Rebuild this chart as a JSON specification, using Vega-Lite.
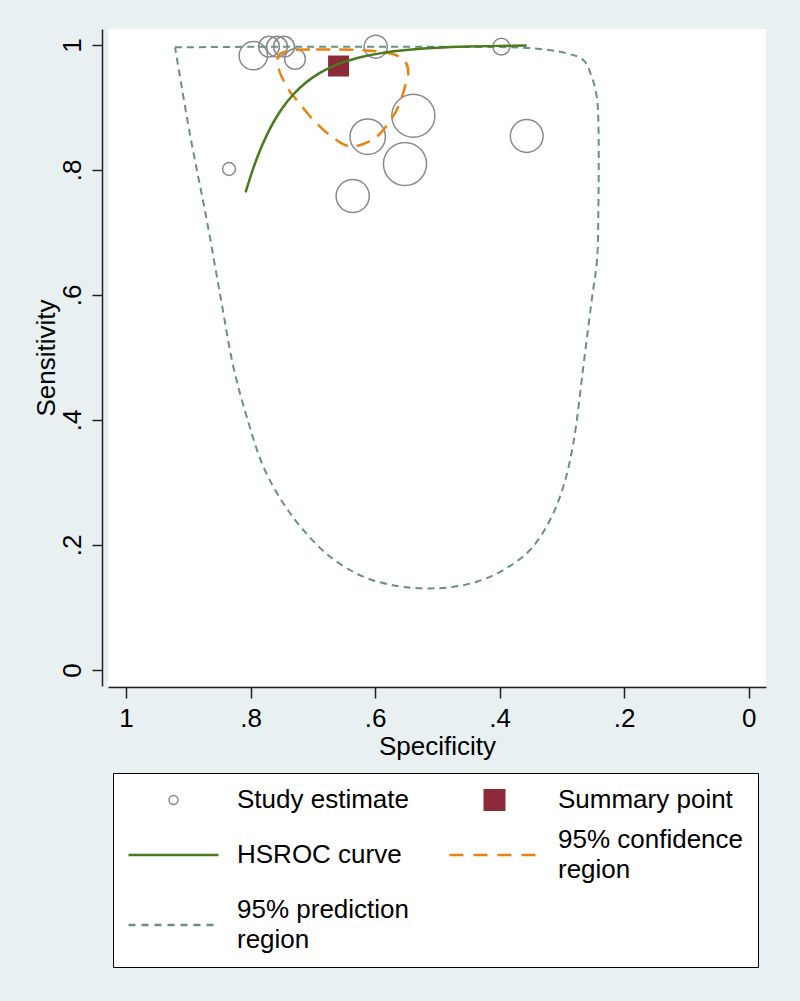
{
  "$schema": "https://vega.github.io/schema/vega-lite/v6.json",
  "autosize": {"type": "none"},
  "width": 658,
  "height": 657,
  "padding": {"left": 108, "top": 29, "right": 34, "bottom": 315},
  "background": "#e9f0f2",
  "config": {
    "view": {"fill": "white", "stroke": null},
    "font": "Liberation Sans",
    "axis": {"grid": false},
    "style": {"guide-label": {"lineHeight": 30}}
  },
  "datasets": {
    "studies": [
      {"spec": 0.7956, "sens": 0.9829, "weight": 256},
      {"spec": 0.7704, "sens": 0.9973, "weight": 137},
      {"spec": 0.7575, "sens": 0.9973, "weight": 137},
      {"spec": 0.7463, "sens": 0.9973, "weight": 137},
      {"spec": 0.7286, "sens": 0.9776, "weight": 137},
      {"spec": 0.599, "sens": 0.9973, "weight": 169},
      {"spec": 0.3973, "sens": 0.9973, "weight": 90},
      {"spec": 0.5386, "sens": 0.8869, "weight": 590},
      {"spec": 0.6119, "sens": 0.8533, "weight": 400},
      {"spec": 0.552, "sens": 0.8096, "weight": 590},
      {"spec": 0.636, "sens": 0.7584, "weight": 350},
      {"spec": 0.3565, "sens": 0.8544, "weight": 342},
      {"spec": 0.8346, "sens": 0.8016, "weight": 53}
    ],
    "summary": [{"spec": 0.6587, "sens": 0.9664}],
    "hsroc": [
      {"spec": 0.808, "sens": 0.7641},
      {"spec": 0.8, "sens": 0.7899},
      {"spec": 0.79, "sens": 0.8183},
      {"spec": 0.78, "sens": 0.8427},
      {"spec": 0.77, "sens": 0.8638},
      {"spec": 0.76, "sens": 0.882},
      {"spec": 0.75, "sens": 0.8976},
      {"spec": 0.73, "sens": 0.9224},
      {"spec": 0.71, "sens": 0.9409},
      {"spec": 0.69, "sens": 0.9547},
      {"spec": 0.67, "sens": 0.965},
      {"spec": 0.65, "sens": 0.9729},
      {"spec": 0.62, "sens": 0.9813},
      {"spec": 0.59, "sens": 0.987},
      {"spec": 0.55, "sens": 0.9919},
      {"spec": 0.5, "sens": 0.9955},
      {"spec": 0.45, "sens": 0.9975},
      {"spec": 0.4, "sens": 0.9986},
      {"spec": 0.3565, "sens": 0.9992}
    ],
    "conf": [
      {"i": 1, "spec": 0.7045, "sens": 0.9928},
      {"i": 2, "spec": 0.7366, "sens": 0.9912},
      {"i": 3, "spec": 0.7527, "sens": 0.9856},
      {"i": 4, "spec": 0.7567, "sens": 0.976},
      {"i": 5, "spec": 0.7543, "sens": 0.96},
      {"i": 6, "spec": 0.7474, "sens": 0.944},
      {"i": 7, "spec": 0.7366, "sens": 0.9248},
      {"i": 8, "spec": 0.7259, "sens": 0.912},
      {"i": 9, "spec": 0.6992, "sens": 0.88},
      {"i": 10, "spec": 0.6697, "sens": 0.8533},
      {"i": 11, "spec": 0.6483, "sens": 0.84},
      {"i": 12, "spec": 0.6355, "sens": 0.8376},
      {"i": 13, "spec": 0.6189, "sens": 0.8416},
      {"i": 14, "spec": 0.5974, "sens": 0.8533},
      {"i": 15, "spec": 0.5788, "sens": 0.8747},
      {"i": 16, "spec": 0.5627, "sens": 0.9013},
      {"i": 17, "spec": 0.552, "sens": 0.9333},
      {"i": 18, "spec": 0.5467, "sens": 0.9547},
      {"i": 19, "spec": 0.5503, "sens": 0.9712},
      {"i": 20, "spec": 0.5632, "sens": 0.9824},
      {"i": 21, "spec": 0.5921, "sens": 0.9893},
      {"i": 22, "spec": 0.6295, "sens": 0.992},
      {"i": 23, "spec": 0.6724, "sens": 0.9928},
      {"i": 24, "spec": 0.7045, "sens": 0.9928}
    ],
    "pred": [
      {"i": 1, "spec": 0.9213, "sens": 0.9963},
      {"i": 2, "spec": 0.8009, "sens": 0.9971},
      {"i": 3, "spec": 0.6403, "sens": 0.9973},
      {"i": 4, "spec": 0.4797, "sens": 0.997},
      {"i": 5, "spec": 0.3464, "sens": 0.9947},
      {"i": 6, "spec": 0.2923, "sens": 0.9867},
      {"i": 7, "spec": 0.2656, "sens": 0.976},
      {"i": 8, "spec": 0.2521, "sens": 0.9493},
      {"i": 9, "spec": 0.2441, "sens": 0.9173},
      {"i": 10, "spec": 0.2415, "sens": 0.88},
      {"i": 11, "spec": 0.2415, "sens": 0.7307},
      {"i": 12, "spec": 0.2436, "sens": 0.656},
      {"i": 13, "spec": 0.2521, "sens": 0.592},
      {"i": 14, "spec": 0.2656, "sens": 0.4853},
      {"i": 15, "spec": 0.2817, "sens": 0.3627},
      {"i": 16, "spec": 0.2977, "sens": 0.2933},
      {"i": 17, "spec": 0.3191, "sens": 0.24},
      {"i": 18, "spec": 0.3512, "sens": 0.192},
      {"i": 19, "spec": 0.3941, "sens": 0.16},
      {"i": 20, "spec": 0.4368, "sens": 0.1413},
      {"i": 21, "spec": 0.4797, "sens": 0.1323},
      {"i": 22, "spec": 0.5226, "sens": 0.1307},
      {"i": 23, "spec": 0.5653, "sens": 0.1344},
      {"i": 24, "spec": 0.6189, "sens": 0.1493},
      {"i": 25, "spec": 0.6724, "sens": 0.1813},
      {"i": 26, "spec": 0.7153, "sens": 0.224},
      {"i": 27, "spec": 0.7474, "sens": 0.2667},
      {"i": 28, "spec": 0.7795, "sens": 0.3253},
      {"i": 29, "spec": 0.8062, "sens": 0.4053},
      {"i": 30, "spec": 0.8277, "sens": 0.4853},
      {"i": 31, "spec": 0.8474, "sens": 0.592},
      {"i": 32, "spec": 0.8704, "sens": 0.72},
      {"i": 33, "spec": 0.8972, "sens": 0.856},
      {"i": 34, "spec": 0.9213, "sens": 0.9963}
    ]
  },
  "encoding": {
    "x": {
      "field": "spec",
      "type": "quantitative",
      "scale": {"domain": [-0.0278, 1.029], "reverse": true, "nice": false, "zero": false},
      "axis": {
        "title": "Specificity",
        "values": [0, 0.2, 0.4, 0.6, 0.8, 1],
        "labelExpr": "replace(format(datum.value, '.1~f'), '0.', '.')",
        "offset": 1,
        "tickSize": 11,
        "tickWidth": 1.5,
        "domainWidth": 1.5,
        "domainColor": "#222222",
        "tickColor": "#222222",
        "labelPadding": 7,
        "titlePadding": 2,
        "labelFont": "Liberation Sans",
        "titleFont": "Liberation Sans",
        "labelFontSize": 26,
        "titleFontSize": 26,
        "titleFontWeight": "normal",
        "labelColor": "black",
        "titleColor": "black",
        "labelFlush": false,
        "labelOverlap": false
      }
    },
    "y": {
      "field": "sens",
      "type": "quantitative",
      "scale": {"domain": [-0.0256, 1.0256], "nice": false, "zero": false},
      "axis": {
        "title": "Sensitivity",
        "values": [0, 0.2, 0.4, 0.6, 0.8, 1],
        "labelExpr": "replace(format(datum.value, '.1~f'), '0.', '.')",
        "offset": 6,
        "tickSize": 10,
        "tickWidth": 1.5,
        "domainWidth": 1.5,
        "domainColor": "#222222",
        "tickColor": "#222222",
        "labelAngle": -90,
        "labelAlign": "center",
        "labelBaseline": "bottom",
        "labelPadding": 7,
        "titlePadding": 0,
        "labelFont": "Liberation Sans",
        "titleFont": "Liberation Sans",
        "labelFontSize": 26,
        "titleFontSize": 26,
        "titleFontWeight": "normal",
        "labelColor": "black",
        "titleColor": "black",
        "labelFlush": false,
        "labelOverlap": false
      }
    }
  },
  "layer": [
    {
      "data": {"name": "studies"},
      "mark": {"type": "point", "filled": false, "strokeWidth": 1.5, "opacity": 1},
      "encoding": {
        "color": {
          "datum": "Study estimate",
          "type": "nominal",
          "scale": {
            "domain": ["Study estimate", "Summary point", "HSROC curve", "95% confidence region", "95% prediction region"],
            "range": ["#8a8a8a", "#8b2a38", "#4a7a1e", "#e8830f", "#6a9080"]
          },
          "legend": {
            "title": null,
            "orient": "none",
            "direction": "horizontal",
            "legendX": 5,
            "legendY": 744,
            "columns": 2,
            "columnPadding": 39,
            "rowPadding": 14,
            "padding": 14,
            "clipHeight": 26,
            "symbolOffset": 33.5,
            "symbolType": {"expr": "datum.value === 'Study estimate' ? 'circle' : datum.value === 'Summary point' ? 'square' : 'stroke'"},
            "symbolSize": {"expr": "datum.value === 'Study estimate' ? 80 : datum.value === 'Summary point' ? 121 : 8100"},
            "symbolStrokeWidth": {"expr": "datum.value === 'Study estimate' ? 1.5 : datum.value === 'Summary point' ? 11 : 2.5"},
            "symbolDash": {"expr": "datum.value === '95% confidence region' ? [14, 10] : datum.value === '95% prediction region' ? [7, 6] : []"},
            "symbolOpacity": 1,
            "labelOffset": 50.5,
            "labelFont": "Liberation Sans",
            "labelFontSize": 26,
            "labelColor": "black",
            "labelLimit": 400,
            "labelBaseline": {"expr": "datum.label == '95% confidence region' || datum.label == '95% prediction region' ? 'line-bottom' : 'middle'"},
            "fillColor": "white",
            "strokeColor": "black",
            "labelExpr": "datum.label == '95% confidence region' ? ['95% confidence', 'region'] : datum.label == '95% prediction region' ? ['95% prediction', 'region'] : datum.label"
          }
        },
        "size": {
          "field": "weight",
          "type": "quantitative",
          "scale": {"domain": [0, 600], "range": [0, 1885], "zero": true},
          "legend": null
        }
      }
    },
    {
      "data": {"name": "summary"},
      "mark": {"type": "point", "shape": "square", "filled": false, "size": 110, "strokeWidth": 10.5, "opacity": 1},
      "encoding": {"color": {"datum": "Summary point", "type": "nominal"}}
    },
    {
      "data": {"name": "pred"},
      "mark": {"type": "line", "strokeDash": [7, 5], "strokeWidth": 2, "interpolate": "catmull-rom"},
      "encoding": {"color": {"datum": "95% prediction region", "type": "nominal"}, "order": {"field": "i", "type": "quantitative"}}
    },
    {
      "data": {"name": "conf"},
      "mark": {"type": "line", "strokeDash": [14, 9], "strokeWidth": 2.5, "interpolate": "catmull-rom"},
      "encoding": {"color": {"datum": "95% confidence region", "type": "nominal"}, "order": {"field": "i", "type": "quantitative"}}
    },
    {
      "data": {"name": "hsroc"},
      "mark": {"type": "line", "strokeWidth": 2.5, "interpolate": "monotone"},
      "encoding": {"color": {"datum": "HSROC curve", "type": "nominal"}, "order": {"field": "spec", "type": "quantitative"}}
    }
  ]
}
